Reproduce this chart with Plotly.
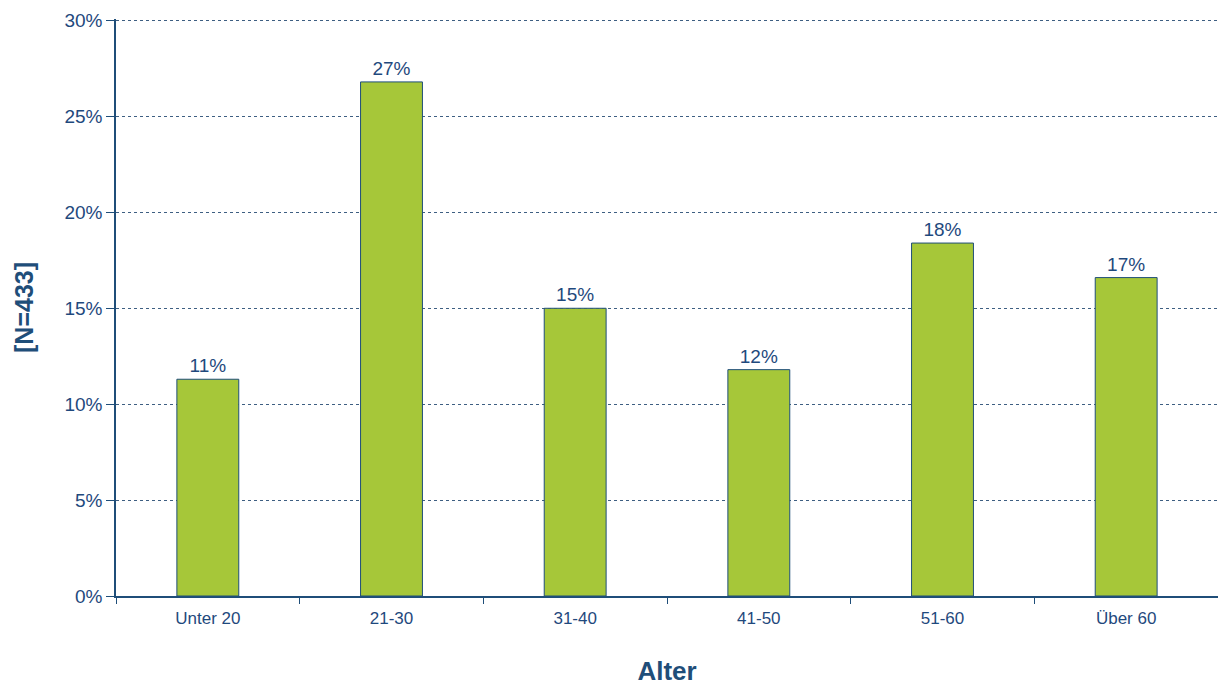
import plotly.graph_objects as go

categories = ["Unter 20", "21-30", "31-40", "41-50", "51-60", "Über 60"]
values = [11.3, 26.8, 15.0, 11.8, 18.4, 16.6]
y_ticks = [0, 5, 10, 15, 20, 25, 30]
y_tick_labels = ["0%", "5%", "10%", "15%", "20%", "25%", "30%"]

navy = "#1F4E79"
textc = "#1F497D"

fig = go.Figure()
fig.add_trace(go.Bar(
    x=categories, y=values,
    marker=dict(color="#A6C739", line=dict(color=navy, width=1)),
    width=0.337,
    texttemplate="%{y:.0f}%", textposition="outside",
    textfont=dict(family="Liberation Sans, Arial", size=19, color=textc),
    cliponaxis=False,
))

fig.update_layout(
    width=1218, height=686,
    margin=dict(l=116, r=0, t=19, b=90, autoexpand=False),
    paper_bgcolor="white", plot_bgcolor="white",
    font=dict(family="Liberation Sans, Arial", color=textc),
    showlegend=False,
    xaxis=dict(
        type="category", automargin=False,
        showline=True, linecolor=navy, linewidth=1.5,
        ticks="outside", tickson="boundaries", ticklen=6, tickcolor=navy,
        tickfont=dict(size=17, color=textc),
        ticklabelstandoff=6,
        showgrid=False,
        title=dict(text="<b>Alter</b>", font=dict(size=26, color=navy), standoff=49),
    ),
    yaxis=dict(
        range=[0, 30.08], tickvals=y_ticks, ticktext=y_tick_labels, automargin=False,
        showline=True, linecolor=navy, linewidth=1.5,
        ticks="outside", ticklen=8, tickcolor=navy,
        tickfont=dict(size=19, color=textc),
        showgrid=True, gridcolor="#3E5F82", griddash="dot", gridwidth=1,
        zeroline=False,
        title=dict(text="<b>[N=433]</b>", font=dict(size=25, color=navy), standoff=24),
    ),
)

fig.write_html("out.html")
